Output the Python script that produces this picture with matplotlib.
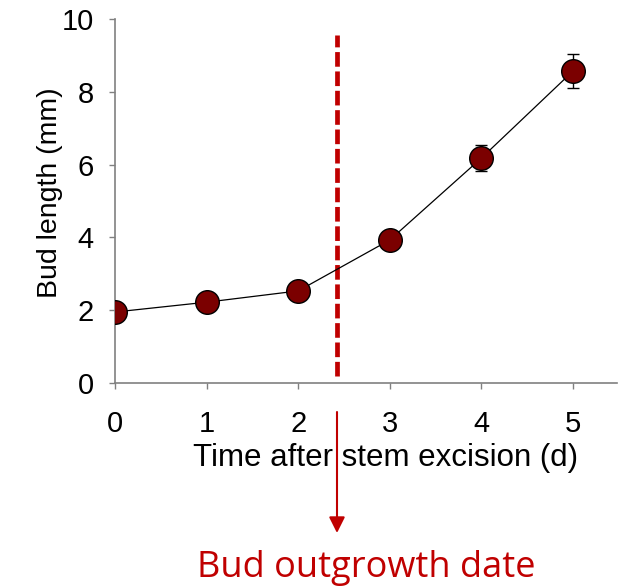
import matplotlib
matplotlib.use("Agg")
import matplotlib.pyplot as plt

days = [0, 1, 2, 3, 4, 5]
bud_length = [1.95, 2.22, 2.53, 3.93, 6.18, 8.57]
bud_err = [0.0, 0.0, 0.0, 0.0, 0.36, 0.46]
outgrowth_day = 2.42
xticks = [0, 1, 2, 3, 4, 5]
yticks = [0, 2, 4, 6, 8, 10]

plt.rcParams['font.family'] = ['Liberation Sans', 'DejaVu Sans']

fig = plt.figure(figsize=(6.2, 5.86), dpi=100)
ax = fig.add_axes([115/620, 1-383/586, (617-115)/620, (383-19)/586])

ax.errorbar(days, bud_length, yerr=bud_err, fmt='none', ecolor='black',
            elinewidth=1, capsize=4, capthick=1, zorder=2)
ax.plot(days, bud_length, color='black', lw=0.9, marker='o', markersize=17,
        markerfacecolor='#7B0000', markeredgecolor='black', markeredgewidth=1, zorder=3)

ax.vlines(outgrowth_day, 0.19, 9.55, colors='#C00000', linestyles=(0, (3.1, 1.0)),
          lw=3.4, zorder=1)

ax.set_xlim(0, 5.48)
ax.set_ylim(0, 10)
ax.set_xticks(xticks)
ax.set_yticks(yticks)
ax.tick_params(labelsize=21, length=4.3, width=1, color='#808080')
ax.tick_params(axis='x', pad=15.5)
ax.tick_params(axis='y', pad=11)
for s in ['top', 'right']:
    ax.spines[s].set_visible(False)
for s in ['left', 'bottom']:
    ax.spines[s].set_color('#808080')
    ax.spines[s].set_linewidth(1.2)
ax.set_xlabel('Time after stem excision (d)', fontsize=22.5)
ax.xaxis.set_label_coords((386-115)/502, -0.165)
ax.set_ylabel('Bud length (mm)', fontsize=20.5)
ax.yaxis.set_label_coords(-0.104, (383-193)/364)

ax.annotate('', xy=(337/620, 1-533/586), xytext=(337/620, 1-412/586),
            xycoords='figure fraction', textcoords='figure fraction',
            arrowprops=dict(arrowstyle='-|>', color='#C00000', lw=1.5,
                            mutation_scale=24, shrinkA=0, shrinkB=0),
            annotation_clip=False)
fig.text(366/620, 1-577/586, 'Bud outgrowth date', color='#C00000', fontsize=26,
         family=['Open Sans', 'DejaVu Sans'], ha='center', va='baseline')

fig.savefig('out.png', dpi=100)
